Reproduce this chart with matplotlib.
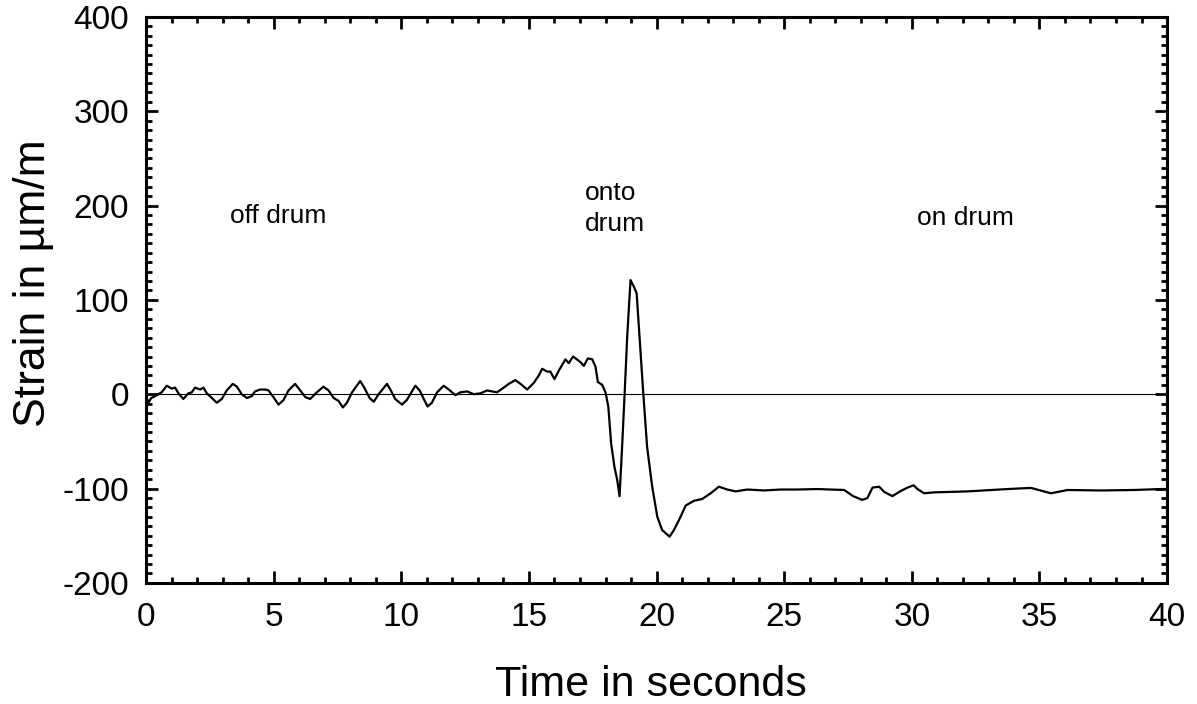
import numpy as np
import matplotlib
matplotlib.use("Agg")
import matplotlib.pyplot as plt
from matplotlib.ticker import MultipleLocator

plt.rcParams['font.family'] = ['Liberation Sans', 'DejaVu Sans']
plt.rcParams['axes.unicode_minus'] = False

# strain trace (time in s, strain in um/m)
time_s = [0.0, 0.1, 0.2, 0.29, 0.48, 0.61, 0.81, 1.01, 1.14, 1.27, 1.46, 1.66, 1.79, 1.92,
          2.12, 2.25, 2.38, 2.58, 2.77, 2.97, 3.16, 3.40, 3.56, 3.75, 3.95, 4.14, 4.27,
          4.47, 4.67, 4.80, 4.99, 5.19, 5.39, 5.58, 5.84, 6.04, 6.24, 6.43, 6.69, 6.95,
          7.15, 7.35, 7.54, 7.71, 7.87, 8.07, 8.39, 8.55, 8.76, 8.92, 9.11, 9.44, 9.59,
          9.76, 10.03, 10.22, 10.55, 10.72, 10.88, 11.03, 11.20, 11.40, 11.66, 11.86,
          12.12, 12.31, 12.58, 12.84, 13.10, 13.36, 13.55, 13.75, 14.01, 14.21, 14.47,
          14.67, 14.93, 15.19, 15.39, 15.52, 15.71, 15.84, 16.00, 16.17, 16.43, 16.56,
          16.73, 17.02, 17.15, 17.31, 17.48, 17.61, 17.70, 17.87, 18.00, 18.11, 18.22,
          18.35, 18.46, 18.55, 18.65, 18.75, 18.85, 18.98, 19.11, 19.22, 19.35, 19.48,
          19.63, 19.83, 20.03, 20.22, 20.51, 20.68, 20.94, 21.14, 21.46, 21.79, 22.12,
          22.44, 22.77, 23.10, 23.55, 24.21, 24.86, 25.5, 26.30, 27.35, 27.7, 28.06,
          28.26, 28.46, 28.72, 28.92, 29.24, 29.57, 29.83, 30.07, 30.22, 30.48, 30.88,
          32.18, 33.75, 34.67, 35.45, 36.1, 37.4, 38.7, 39.76, 40.0]
strain = [-2, -9, -4, -3, 0, 2, 9, 6, 7, 1, -5, 1, 2, 7,
          5, 7, 1, -4, -9, -5, 4, 11, 8, 0, -4, -2, 3,
          5, 5, 4, -3, -11, -6, 4, 11, 4, -3, -5, 2, 8,
          4, -4, -7, -14, -9, 2, 14, 7, -4, -8, 0, 11, 4,
          -5, -11, -6, 9, 4, -5, -13, -9, 2, 9, 5,
          -1, 2, 3, 0, 1, 4, 3, 2, 7, 11, 15,
          11, 5, 12, 20, 27, 24, 24, 16, 25, 37, 33,
          40, 34, 30, 38, 37, 29, 13, 10, 2, -13, -52,
          -77, -91, -108, -56, 1, 61, 121, 114, 107, 54, 1,
          -56, -98, -130, -144, -151, -144, -130, -118, -113, -111, -105,
          -98, -101, -103, -101, -102, -101, -101, -100.5, -101.5, -108, -112,
          -110, -99, -98, -103.6, -108, -102.5, -99, -96.5, -100.5, -105, -104,
          -103, -100.5, -99.3, -105, -101.5, -102, -101.5, -100.5, -100.5]

labels = ["off drum", "onto\ndrum", "on drum"]
label_t = [3.3, 17.2, 30.2]
label_v = [189, 197, 187]

fig = plt.figure(figsize=(11.97, 7.04), dpi=100)
ax = fig.add_axes([0.122, 0.172, 0.853, 0.804])

ax.axhline(0, color='black', lw=0.8)
ax.plot(time_s, strain, color='black', lw=1.6)

for txt, tx, ty in zip(labels, label_t, label_v):
    ax.text(tx, ty, txt, fontsize=19, ha='left', va='center', linespacing=1.4)

ax.set_xlim(0, 40)
ax.set_ylim(-200, 400)
ax.xaxis.set_major_locator(MultipleLocator(5))
ax.xaxis.set_minor_locator(MultipleLocator(1))
ax.yaxis.set_major_locator(MultipleLocator(100))
ax.yaxis.set_minor_locator(MultipleLocator(10))

ax.tick_params(which='both', direction='in', top=True, right=True, width=2)
ax.tick_params(which='major', length=8.5, labelsize=24)
ax.tick_params(axis='x', which='major', pad=14)
ax.tick_params(axis='y', which='major', pad=12)
ax.tick_params(which='minor', length=4.5)
for s in ax.spines.values():
    s.set_linewidth(2.2)

ax.set_xlabel("Time in seconds", fontsize=31, va='center')
ax.set_ylabel("Strain in µm/m", fontsize=32)
ax.xaxis.set_label_coords(0.494, -0.181)
ax.yaxis.set_label_coords(-0.09, 0.53)

fig.savefig("out.png", dpi=100)
